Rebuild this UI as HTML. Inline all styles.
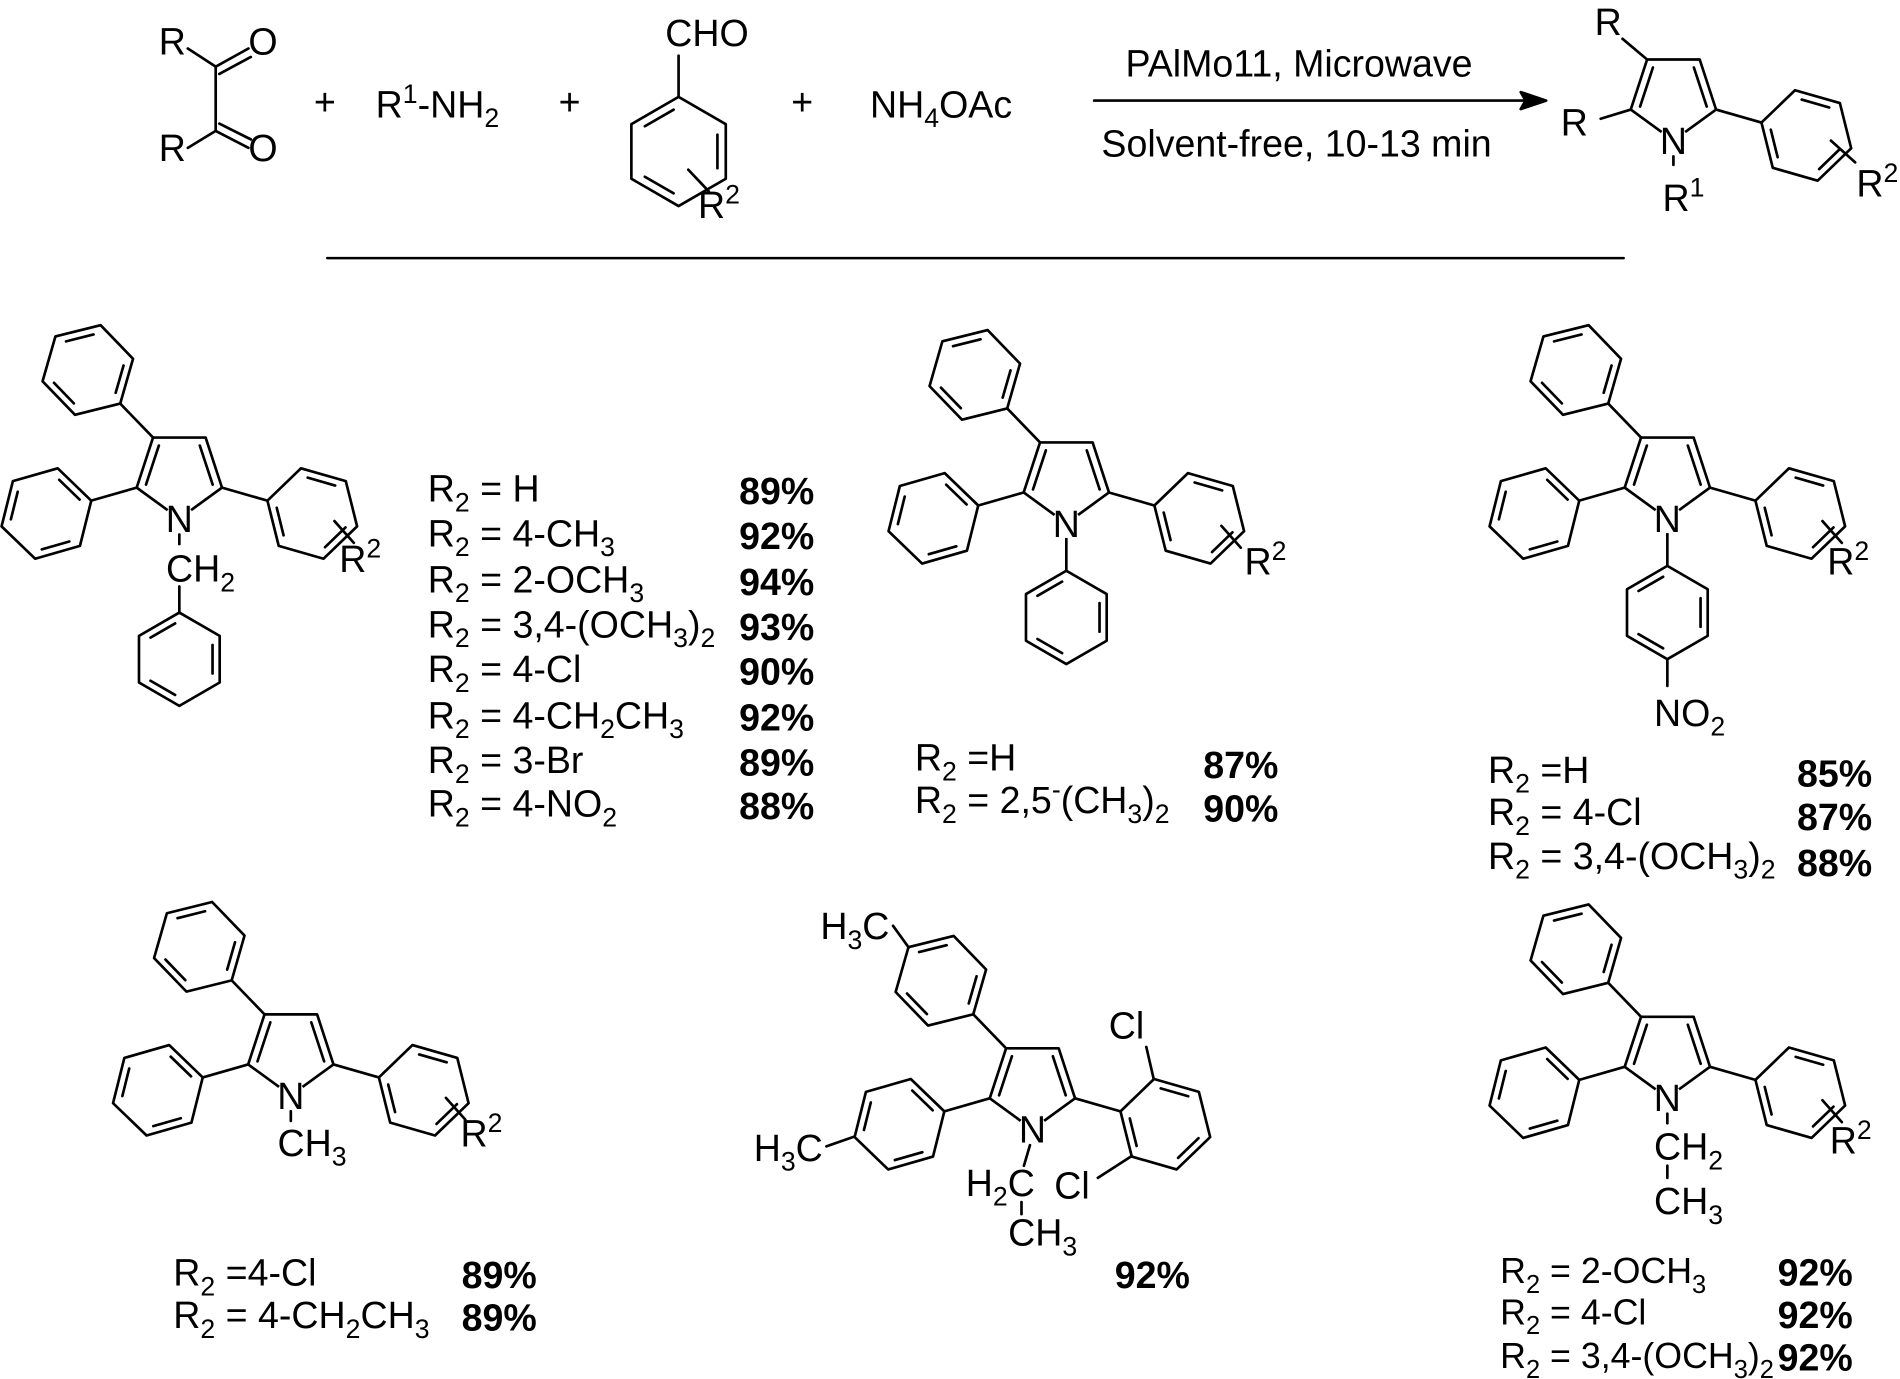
<!DOCTYPE html>
<html><head><meta charset="utf-8"><style>
html,body{margin:0;padding:0;background:#fff;}
svg{display:block;}
text{font-family:"Liberation Sans",Arial,sans-serif;font-size:31px;fill:#000;}
.b{font-weight:bold;}
.s{font-size:29.5px;}
</style></head><body>
<svg width="1900" height="1379" viewBox="0 0 1568 1138" xmlns="http://www.w3.org/2000/svg">
<defs>
<g id="hex">
<polygon points="38.5,0 19.25,33.3 -19.25,33.3 -38.5,0 -19.25,-33.3 19.25,-33.3"/>
<line x1="29.5" y1="3.5" x2="17.8" y2="23.8"/>
<line x1="-17.8" y1="23.8" x2="-29.5" y2="3.5"/>
<line x1="-11.8" y1="-27.4" x2="11.8" y2="-27.4"/>
</g>
<g id="ph"><line x1="0" y1="0" x2="39" y2="0"/><use href="#hex" transform="translate(77.5,0)"/></g>
<g id="pyr">
<polygon points="0,0 -35.2,-25.6 -21.7,-66.9 21.7,-66.9 35.2,-25.6"/>
<line x1="-27.5" y1="-28.1" x2="-16.9" y2="-60.3"/>
<line x1="16.9" y1="-60.3" x2="27.5" y2="-28.1"/>
<use href="#ph" transform="translate(-35.2,-25.6) rotate(164)"/>
<use href="#ph" transform="translate(-21.7,-66.9) rotate(226)"/>
<use href="#ph" transform="translate(35.2,-25.6) rotate(16)"/>
</g>
<g id="nlab"><circle cx="0" cy="0" r="12" fill="#fff" stroke="none"/><text x="0" y="11" text-anchor="middle">N</text></g>
</defs>

<g fill="none" stroke="#000" stroke-width="2.2" stroke-linecap="round" stroke-linejoin="round">
<line x1="155" y1="40" x2="178" y2="55"/>
<line x1="178" y1="55" x2="205" y2="40"/>
<line x1="181" y1="61" x2="207" y2="47"/>
<line x1="178" y1="55" x2="178" y2="108"/>
<line x1="178" y1="108" x2="155" y2="122"/>
<line x1="178" y1="108" x2="205" y2="122"/>
<line x1="181" y1="102" x2="207" y2="115"/>
<g transform="translate(560,125) rotate(90) scale(1.17)" stroke-width="1.88"><use href="#hex"/></g>
<line x1="560" y1="80" x2="560" y2="46"/>
<line x1="568" y1="140" x2="585" y2="158"/>
<line x1="903" y1="83" x2="1260" y2="83"/>
<polygon points="1276,83 1255,76 1259,83 1255,90" fill="#000"/>
<line x1="270" y1="213" x2="1340" y2="213" stroke-width="2"/>

<g transform="translate(1381,116)">
<polygon points="0,0 -35.2,-25.6 -21.7,-66.9 21.7,-66.9 35.2,-25.6"/>
<line x1="-27.5" y1="-28.1" x2="-16.9" y2="-60.3"/>
<line x1="16.9" y1="-60.3" x2="27.5" y2="-28.1"/>
<use href="#ph" transform="translate(35.2,-25.6) rotate(16)"/>
<line x1="-35.2" y1="-25.6" x2="-60" y2="-18"/>
<line x1="-21.7" y1="-66.9" x2="-42" y2="-84"/>
<line x1="0" y1="13" x2="0" y2="20"/>
<line x1="130" y1="0" x2="150" y2="18"/>
</g>

<g transform="translate(148,428)"><use href="#pyr"/>
<line x1="0" y1="13" x2="0" y2="21"/>
<line x1="0" y1="56" x2="0" y2="78"/>
<use href="#hex" transform="translate(0,116) rotate(90)"/>
<line x1="128" y1="2" x2="144" y2="20"/>
</g>
<g transform="translate(880,432)"><use href="#pyr"/><use href="#ph" transform="rotate(90)"/>
<line x1="128" y1="2" x2="144" y2="20"/></g>
<g transform="translate(1376,428)"><use href="#pyr"/><use href="#ph" transform="rotate(90)"/>
<line x1="0" y1="116" x2="0" y2="138"/>
<line x1="128" y1="2" x2="144" y2="20"/></g>
<g transform="translate(240,904)"><use href="#pyr"/>
<line x1="0" y1="13" x2="0" y2="21"/>
<line x1="128" y1="2" x2="144" y2="20"/></g>
<g transform="translate(852,932)"><use href="#pyr"/>
<line x1="-2" y1="13" x2="-7" y2="30"/>
<line x1="-9" y1="60" x2="-9" y2="70"/>
</g>
<line x1="750" y1="782" x2="737" y2="764"/>
<line x1="705" y1="938" x2="682" y2="946"/>
<line x1="952" y1="890" x2="946" y2="864"/>
<line x1="934" y1="954" x2="906" y2="972"/>
<g transform="translate(1376,906)"><use href="#pyr"/>
<line x1="0" y1="13" x2="0" y2="21"/>
<line x1="0" y1="56" x2="0" y2="66"/>
<line x1="128" y1="2" x2="144" y2="20"/></g>
</g>

<use href="#nlab" transform="translate(1381,116)"/>
<use href="#nlab" transform="translate(148,428)"/>
<use href="#nlab" transform="translate(880,432)"/>
<use href="#nlab" transform="translate(1376,428)"/>
<use href="#nlab" transform="translate(240,904)"/>
<use href="#nlab" transform="translate(852,932)"/>
<use href="#nlab" transform="translate(1376,906)"/>

<text x="131" y="45">R</text><text x="205" y="45">O</text>
<text x="131" y="133">R</text><text x="205" y="133">O</text>
<text x="259" y="95">+</text>
<text x="310" y="97">R<tspan dy="-12" font-size="22">1</tspan><tspan dy="12">-NH</tspan><tspan dy="8" font-size="22">2</tspan></text>
<text x="461" y="95">+</text>
<text x="549" y="38">CHO</text>
<text x="576" y="180">R<tspan dy="-12" font-size="22">2</tspan></text>
<text x="653" y="95">+</text>
<text x="718" y="97">NH<tspan dy="8" font-size="22">4</tspan><tspan dy="-8">OAc</tspan></text>
<text x="1072" y="63" text-anchor="middle">PAlMo11, Microwave</text>
<text x="1070" y="129" text-anchor="middle">Solvent-free, 10-13 min</text>
<text x="1316" y="29">R</text>
<text x="1288" y="112">R</text>
<text x="1372" y="174">R<tspan dy="-12" font-size="22">1</tspan></text>
<text x="1532" y="162">R<tspan dy="-12" font-size="22">2</tspan></text>

<text x="137" y="480">CH<tspan dy="8" font-size="22">2</tspan></text>
<text x="280" y="472">R<tspan dy="-12" font-size="22">2</tspan></text>
<text x="353" y="414">R<tspan dy="8" font-size="22">2</tspan><tspan dy="-8"> = H</tspan></text>
<text x="353" y="451">R<tspan dy="8" font-size="22">2</tspan><tspan dy="-8"> = 4-CH</tspan><tspan dy="8" font-size="22">3</tspan></text>
<text x="353" y="489">R<tspan dy="8" font-size="22">2</tspan><tspan dy="-8"> = 2-OCH</tspan><tspan dy="8" font-size="22">3</tspan></text>
<text x="353" y="526">R<tspan dy="8" font-size="22">2</tspan><tspan dy="-8"> = 3,4-(OCH</tspan><tspan dy="8" font-size="22">3</tspan><tspan dy="-8">)</tspan><tspan dy="8" font-size="22">2</tspan></text>
<text x="353" y="563">R<tspan dy="8" font-size="22">2</tspan><tspan dy="-8"> = 4-Cl</tspan></text>
<text x="353" y="601">R<tspan dy="8" font-size="22">2</tspan><tspan dy="-8"> = 4-CH</tspan><tspan dy="8" font-size="22">2</tspan><tspan dy="-8">CH</tspan><tspan dy="8" font-size="22">3</tspan></text>
<text x="353" y="638">R<tspan dy="8" font-size="22">2</tspan><tspan dy="-8"> = 3-Br</tspan></text>
<text x="353" y="674">R<tspan dy="8" font-size="22">2</tspan><tspan dy="-8"> = 4-NO</tspan><tspan dy="8" font-size="22">2</tspan></text>
<text class="b" x="610" y="416">89%</text>
<text class="b" x="610" y="453">92%</text>
<text class="b" x="610" y="491">94%</text>
<text class="b" x="610" y="528">93%</text>
<text class="b" x="610" y="565">90%</text>
<text class="b" x="610" y="603">92%</text>
<text class="b" x="610" y="640">89%</text>
<text class="b" x="610" y="676">88%</text>

<text x="1027" y="474">R<tspan dy="-12" font-size="22">2</tspan></text>
<text x="755" y="636">R<tspan dy="8" font-size="22">2</tspan><tspan dy="-8"> =H</tspan></text>
<text x="755" y="671">R<tspan dy="8" font-size="22">2</tspan><tspan dy="-8"> = 2,5</tspan><tspan dy="-12" font-size="22">-</tspan><tspan dy="12">(CH</tspan><tspan dy="8" font-size="22">3</tspan><tspan dy="-8">)</tspan><tspan dy="8" font-size="22">2</tspan></text>
<text class="b" x="993" y="642">87%</text>
<text class="b" x="993" y="678">90%</text>

<text x="1508" y="474">R<tspan dy="-12" font-size="22">2</tspan></text>
<text x="1365" y="599">NO<tspan dy="8" font-size="22">2</tspan></text>
<text x="1228" y="646">R<tspan dy="8" font-size="22">2</tspan><tspan dy="-8"> =H</tspan></text>
<text x="1228" y="681">R<tspan dy="8" font-size="22">2</tspan><tspan dy="-8"> = 4-Cl</tspan></text>
<text x="1228" y="717">R<tspan dy="8" font-size="22">2</tspan><tspan dy="-8"> = 3,4-(OCH</tspan><tspan dy="8" font-size="22">3</tspan><tspan dy="-8">)</tspan><tspan dy="8" font-size="22">2</tspan></text>
<text class="b" x="1483" y="649">85%</text>
<text class="b" x="1483" y="685">87%</text>
<text class="b" x="1483" y="723">88%</text>

<text x="229" y="954">CH<tspan dy="8" font-size="22">3</tspan></text>
<text x="380" y="946">R<tspan dy="-12" font-size="22">2</tspan></text>
<text x="143" y="1061">R<tspan dy="8" font-size="22">2</tspan><tspan dy="-8"> =4-Cl</tspan></text>
<text x="143" y="1096">R<tspan dy="8" font-size="22">2</tspan><tspan dy="-8"> = 4-CH</tspan><tspan dy="8" font-size="22">2</tspan><tspan dy="-8">CH</tspan><tspan dy="8" font-size="22">3</tspan></text>
<text class="b" x="381" y="1063">89%</text>
<text class="b" x="381" y="1098">89%</text>

<text x="677" y="775">H<tspan dy="8" font-size="22">3</tspan><tspan dy="-8">C</tspan></text>
<text x="622" y="958">H<tspan dy="8" font-size="22">3</tspan><tspan dy="-8">C</tspan></text>
<text x="915" y="857">Cl</text>
<text x="870" y="989">Cl</text>
<text x="797" y="987">H<tspan dy="8" font-size="22">2</tspan><tspan dy="-8">C</tspan></text>
<text x="832" y="1028">CH<tspan dy="8" font-size="22">3</tspan></text>
<text class="b" x="920" y="1063">92%</text>

<text x="1365" y="957">CH<tspan dy="8" font-size="22">2</tspan></text>
<text x="1365" y="1002">CH<tspan dy="8" font-size="22">3</tspan></text>
<text x="1510" y="952">R<tspan dy="-12" font-size="22">2</tspan></text>
<text class="s" x="1238" y="1059">R<tspan dy="8" font-size="21">2</tspan><tspan dy="-8"> = 2-OCH</tspan><tspan dy="8" font-size="21">3</tspan></text>
<text class="s" x="1238" y="1093">R<tspan dy="8" font-size="21">2</tspan><tspan dy="-8"> = 4-Cl</tspan></text>
<text class="s" x="1238" y="1129">R<tspan dy="8" font-size="21">2</tspan><tspan dy="-8"> = 3,4-(OCH</tspan><tspan dy="8" font-size="21">3</tspan><tspan dy="-8">)</tspan><tspan dy="8" font-size="21">2</tspan></text>
<text class="b" x="1467" y="1061">92%</text>
<text class="b" x="1467" y="1096">92%</text>
<text class="b" x="1467" y="1131">92%</text>
</svg>
</body></html>
